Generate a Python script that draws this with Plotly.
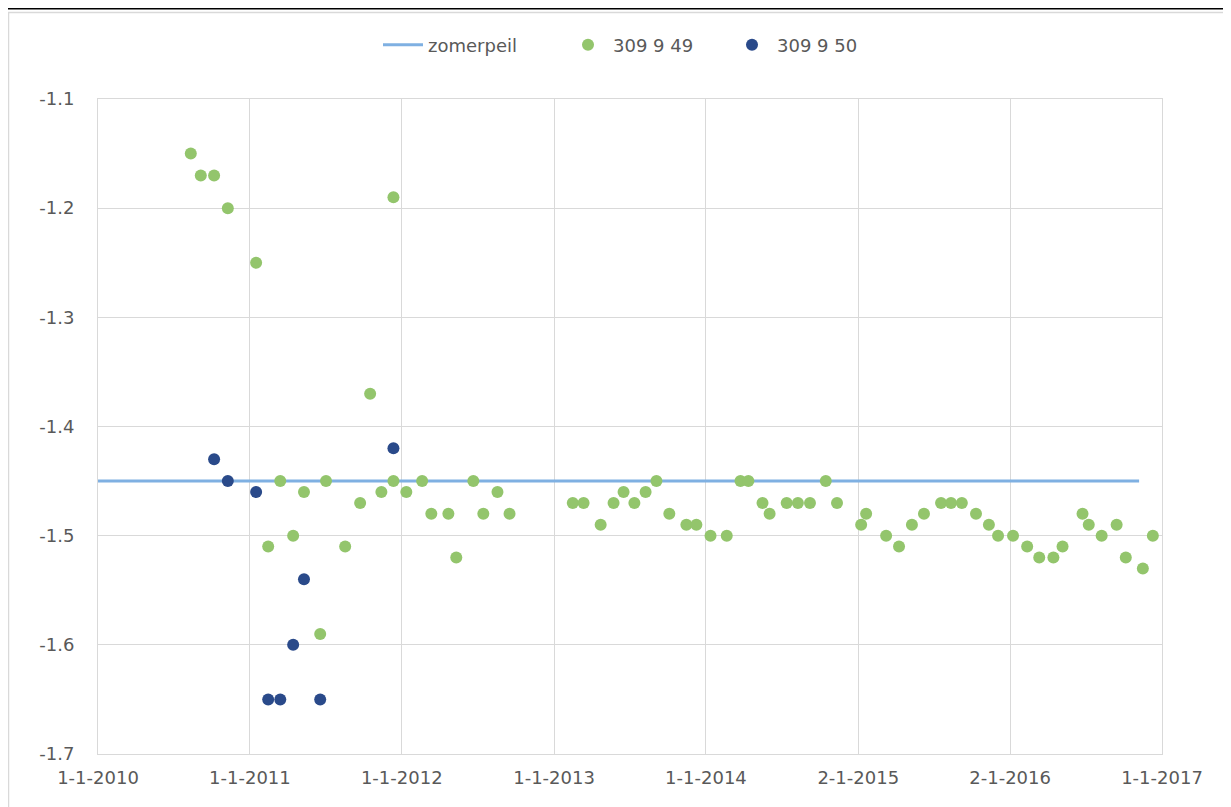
import plotly.graph_objects as go

# ---- data ----
peil_dates = ["2010-01-01", "2016-11-07"]
peil_values = [-1.45, -1.45]

s49_dates = [
    "2010-08-12", "2010-09-05", "2010-10-07", "2010-11-09", "2011-01-16", "2011-02-14",
    "2011-03-15", "2011-04-15", "2011-05-11", "2011-06-19", "2011-07-03", "2011-08-18",
    "2011-09-23", "2011-10-17", "2011-11-13", "2011-12-12", "2011-12-12", "2012-01-12",
    "2012-02-19", "2012-03-12", "2012-04-22", "2012-05-11", "2012-06-21", "2012-07-15",
    "2012-08-18", "2012-09-16",
    "2013-02-15", "2013-03-13", "2013-04-23", "2013-05-24", "2013-06-17", "2013-07-13",
    "2013-08-09", "2013-09-04", "2013-10-05", "2013-11-15", "2013-12-09", "2014-01-12",
    "2014-02-20", "2014-03-25", "2014-04-13", "2014-05-17", "2014-06-03", "2014-07-14",
    "2014-08-10", "2014-09-08", "2014-10-16", "2014-11-12", "2015-01-09", "2015-01-21",
    "2015-03-10", "2015-04-10", "2015-05-11", "2015-06-09", "2015-07-20", "2015-08-13",
    "2015-09-08", "2015-10-12", "2015-11-12", "2015-12-04", "2016-01-09", "2016-02-12",
    "2016-03-12", "2016-04-15", "2016-05-07", "2016-06-24", "2016-07-09", "2016-08-09",
    "2016-09-14", "2016-10-06", "2016-11-16", "2016-12-10",
]
s49_values = [
    -1.15, -1.17, -1.17, -1.20, -1.25, -1.51,
    -1.45, -1.50, -1.46, -1.59, -1.45, -1.51,
    -1.47, -1.37, -1.46, -1.19, -1.45, -1.46,
    -1.45, -1.48, -1.48, -1.52, -1.45, -1.48,
    -1.46, -1.48,
    -1.47, -1.47, -1.49, -1.47, -1.46, -1.47,
    -1.46, -1.45, -1.48, -1.49, -1.49, -1.50,
    -1.50, -1.45, -1.45, -1.47, -1.48, -1.47,
    -1.47, -1.47, -1.45, -1.47, -1.49, -1.48,
    -1.50, -1.51, -1.49, -1.48, -1.47, -1.47,
    -1.47, -1.48, -1.49, -1.50, -1.50, -1.51,
    -1.52, -1.52, -1.51, -1.48, -1.49, -1.50,
    -1.49, -1.52, -1.53, -1.50,
]

s50_dates = ["2010-10-07", "2010-11-09", "2011-01-16", "2011-02-14", "2011-03-15",
             "2011-04-15", "2011-05-11", "2011-06-19", "2011-12-12"]
s50_values = [-1.43, -1.45, -1.46, -1.65, -1.65, -1.60, -1.54, -1.65, -1.42]

tick_dates = ["2010-01-01", "2011-01-01", "2012-01-01", "2013-01-01", "2014-01-01",
              "2015-01-02", "2016-01-02", "2017-01-01"]
tick_labels = ["1-1-2010", "1-1-2011", "1-1-2012", "1-1-2013", "1-1-2014",
               "2-1-2015", "2-1-2016", "1-1-2017"]
y_ticks = [-1.7, -1.6, -1.5, -1.4, -1.3, -1.2, -1.1]

GREEN = "#93C56C"
BLUE = "#2A4A8A"
LINE = "#7FB0E2"
GRID = "#D9D9D9"
TXT = "#595959"
FONT = "DejaVu Sans, Liberation Sans, Arial, sans-serif"
FS = 18

fig = go.Figure()
fig.add_trace(go.Scatter(x=peil_dates, y=peil_values, mode="lines", name="zomerpeil",
                         line=dict(color=LINE, width=3), legend="legend"))
fig.add_trace(go.Scatter(x=s49_dates, y=s49_values, mode="markers", name="309 9 49",
                         marker=dict(color=GREEN, size=12), legend="legend"))
fig.add_trace(go.Scatter(x=s50_dates, y=s50_values, mode="markers", name="309 9 50",
                         marker=dict(color=BLUE, size=12), legend="legend2"))

# page body has an 8px margin, so the figure is sized to fit the window
FW, FH = 1223, 799
L, T = 90, 91
R, B = FW - 1154, FH - 746
W, H = FW - L - R, FH - T - B

def px(xp):
    return (xp - L) / W

def py(yp):
    return (FH - B - yp) / H

legend_common = dict(orientation="h", yanchor="middle", y=py(37), xanchor="left",
                     font=dict(size=FS, color=TXT), itemwidth=40,
                     bgcolor="rgba(0,0,0,0)")

fig.update_layout(
    width=FW, height=FH,
    margin=dict(l=L, r=R, t=T, b=B, autoexpand=False),
    paper_bgcolor="white", plot_bgcolor="white",
    font=dict(family=FONT, size=FS, color=TXT),
    showlegend=True,
    legend=dict(x=px(370), entrywidth=130, entrywidthmode="pixels", **legend_common),
    legend2=dict(x=px(719), **legend_common),
    xaxis=dict(type="date", range=["2010-01-01", "2017-01-01"],
               tickvals=tick_dates, ticktext=tick_labels,
               showgrid=True, gridcolor=GRID, gridwidth=1,
               showline=True, linecolor=GRID, linewidth=1, mirror=True,
               ticks="", zeroline=False, ticklabelstandoff=7,
               tickfont=dict(size=FS, color=TXT)),
    yaxis=dict(range=[-1.7, -1.1], tickvals=y_ticks,
               ticktext=[f"{v:.1f}" for v in y_ticks],
               showgrid=True, gridcolor=GRID, gridwidth=1,
               showline=True, linecolor=GRID, linewidth=1, mirror=True,
               ticks="", zeroline=False, ticklabelstandoff=19,
               tickfont=dict(size=FS, color=TXT)),
    shapes=[
        dict(type="rect", xref="paper", yref="paper",
             x0=px(0.5), x1=px(1221), y0=py(805), y1=py(4.5),
             line=dict(color="#D9D9D9", width=1.5), fillcolor="rgba(0,0,0,0)", layer="below"),
        dict(type="line", xref="paper", yref="paper",
             x0=px(0), x1=px(FW), y0=py(0.5), y1=py(0.5),
             line=dict(color="black", width=2)),
    ],
)

fig.write_html("out.html")
